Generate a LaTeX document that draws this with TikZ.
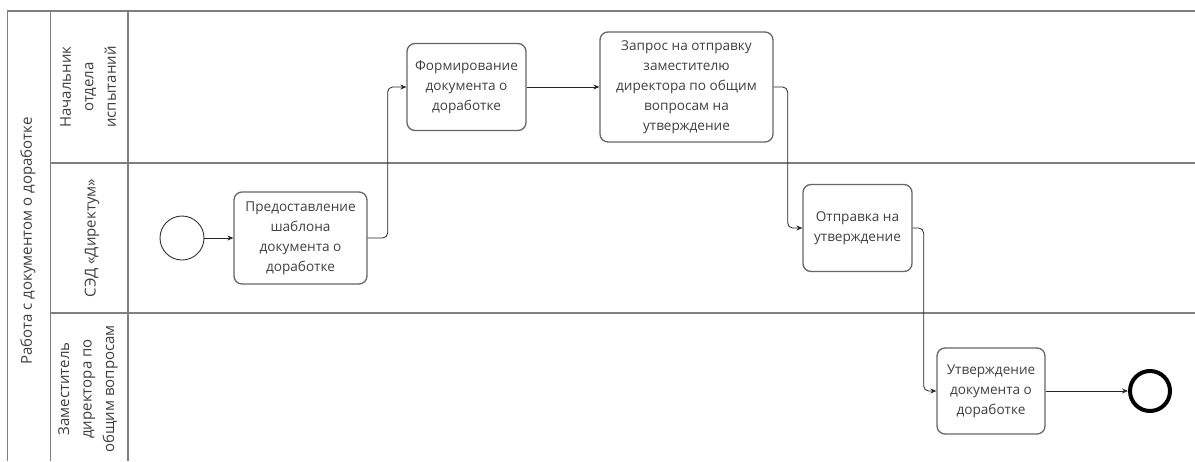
\documentclass[tikz,border=0pt]{standalone}
\usepackage{fontspec}
\setmainfont{Open Sans}
\usetikzlibrary{arrows.meta}
\definecolor{ln}{HTML}{7F7F7F}
\definecolor{bx}{HTML}{666666}
\definecolor{tx}{HTML}{404040}
\begin{document}
\begin{tikzpicture}[x=1pt,y=-1pt,
  task/.style={draw=bx, line width=1.3pt, rounded corners=8pt, fill=white,
    font=\fontsize{13.6}{20}\selectfont, text=tx, align=center, inner sep=0pt},
  flow/.style={draw=black!85, line width=0.8pt, -{Stealth[length=6pt,width=5pt]}, rounded corners=5pt},
  lane/.style={draw=ln, line width=1.5pt},
  lbl/.style={rotate=90, font=\fontsize{15}{22.5}\selectfont, align=center, text=tx, inner sep=0pt}]
\useasboundingbox (0,0) rectangle (1195,461);
\fill[white] (0,0) rectangle (1195,461);
% pool and lanes
\draw[lane] (7.5,461) -- (7.5,11) -- (1195,11);
\draw[lane] (50.5,11) -- (50.5,461);
\draw[lane] (128,11) -- (128,461);
\draw[lane] (50.5,163) -- (1195,163);
\draw[lane] (50.5,313) -- (1195,313);
% labels
\node[lbl] (pool) at (28,241) {Работа с документом о доработке};
\node[lbl] (l1) at (88,87) {Начальник\\отдела\\испытаний};
\node[lbl] (l2) at (92,238) {СЭД «Директум»};
\node[lbl] (l3) at (88,389) {Заместитель\\директора по\\общим вопросам};
% events
\node[draw=black!80, line width=0.9pt, circle, minimum size=44pt, inner sep=0pt, fill=white] (start) at (182,238) {};
\node[draw=black, line width=4pt, circle, minimum size=40pt, inner sep=0pt, fill=white] (end) at (1150,391) {};
% tasks
\node[task, minimum width=133pt, minimum height=92pt] (b1) at (300.5,238) {Предоставление\\шаблона\\документа о\\доработке};
\node[task, minimum width=119pt, minimum height=87pt] (b2) at (466.5,87) {Формирование\\документа о\\доработке};
\node[task, minimum width=173pt, minimum height=110pt] (b3) at (686.5,87) {Запрос на отправку\\заместителю\\директора по общим\\вопросам на\\утверждение};
\node[task, minimum width=109pt, minimum height=87pt] (b4) at (857.5,228) {Отправка на\\утверждение};
\node[task, minimum width=108pt, minimum height=86pt] (b5) at (991,391) {Утверждение\\документа о\\доработке};
% flows
\draw[flow] (start) -- (b1);
\draw[flow] (b1.east) -- ++(20,0) |- (b2.west);
\draw[flow] (b2) -- (b3);
\draw[flow] (b3.east) -- ++(14,0) |- (b4.west);
\draw[flow] (b4.east) -- ++(11,0) |- (b5.west);
\draw[flow] (b5) -- (end);
\end{tikzpicture}
\end{document}
